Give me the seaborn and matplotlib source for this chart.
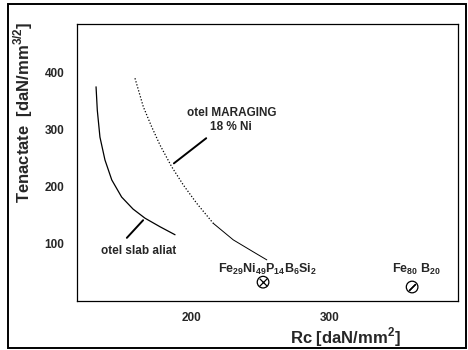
import numpy as np
import pandas as pd
import seaborn as sns
import matplotlib.pyplot as plt
from matplotlib.patches import Rectangle

# curve: otel slab aliat
slab_rc = [131.7, 132.6, 134.5, 138.1, 143.0, 150.1, 158.3, 166.9, 177.7, 188.5]
slab_k = [375, 334, 287, 247, 212, 182, 161, 145, 130, 116]

# otel MARAGING 18 % Ni (dotted upper part, solid lower part)
mar_rc_dot = [159.7, 165.7, 171.7, 177.7, 186.1, 194.5, 204.1, 216.0]
mar_k_dot = [390, 340, 305, 273, 235, 203, 171, 136]
mar_rc_sol = [216.0, 230.4, 244.8, 254.5]
mar_k_sol = [136, 107, 86, 72]

# amorphous alloys
alloy_names = ['Fe$_{\\mathbf{29}}$Ni$_{\\mathbf{49}}$P$_{\\mathbf{14}}$B$_{\\mathbf{6}}$Si$_{\\mathbf{2}}$',
               'Fe$_{\\mathbf{80}}$ B$_{\\mathbf{20}}$']
alloy_rc = [251.8, 359.0]
alloy_k = [33, 24.5]

x_ticks = [200, 300]
y_ticks = [100, 200, 300, 400]

sns.set_style('white')
plt.rcParams['font.family'] = ['Liberation Sans', 'DejaVu Sans']
plt.rcParams['mathtext.fontset'] = 'custom'
plt.rcParams['mathtext.rm'] = 'Liberation Sans:bold'
plt.rcParams['mathtext.bf'] = 'Liberation Sans:bold'

fig = plt.figure(figsize=(4.68, 3.5), dpi=100)
ax = fig.add_axes([77/468, 1 - 301/350, (458-77)/468, (301-24)/350])

slab = pd.DataFrame({'rc': slab_rc, 'k': slab_k})
sns.lineplot(data=slab, x='rc', y='k', ax=ax, color='black', lw=0.9, sort=False)
dot = pd.DataFrame({'rc': mar_rc_dot, 'k': mar_k_dot})
sns.lineplot(data=dot, x='rc', y='k', ax=ax, color='black', lw=0.9, ls=(0, (1, 1.5)), sort=False)
sol = pd.DataFrame({'rc': mar_rc_sol, 'k': mar_k_sol})
sns.lineplot(data=sol, x='rc', y='k', ax=ax, color='black', lw=0.7, sort=False)

# markers: circle with x, circle with slash
ax.scatter(alloy_rc, alloy_k, s=70, facecolors='none', edgecolors='black', linewidths=0.9, zorder=3)
ax.scatter(alloy_rc[:1], alloy_k[:1], s=30, marker='x', color='black', linewidths=0.9, zorder=3)
ax.scatter(alloy_rc[1:], alloy_k[1:], s=40, marker=(2, 2, -45), color='black', linewidths=0.9, zorder=3)

ax.text(219.4, 56, alloy_names[0], fontsize=9, fontweight='bold', va='center', ha='left')
ax.text(344.6, 56, alloy_names[1], fontsize=9, fontweight='bold', va='center', ha='left')

ax.text(229, 317, 'otel MARAGING\n18 % Ni', fontsize=8.5, fontweight='bold',
        ha='center', va='center', linespacing=1.2)
ax.annotate('', xy=(186.1, 238), xytext=(212.5, 288),
            arrowprops=dict(arrowstyle='-', color='black', lw=1.4))
ax.text(135.0, 87, 'otel slab aliat', fontsize=8.5, fontweight='bold', ha='left', va='center')
ax.annotate('', xy=(166.9, 145), xytext=(152.5, 107),
            arrowprops=dict(arrowstyle='-', color='black', lw=1.4))

ax.set_xlim(118, 392)
ax.set_ylim(0, 485)
ax.set_xticks(x_ticks)
ax.set_yticks(y_ticks)
ax.tick_params(length=0, labelsize=8.5, pad=9)
ax.tick_params(axis='x', pad=8)
for lab in ax.get_xticklabels() + ax.get_yticklabels():
    lab.set_fontweight('bold')

ax.set_xlabel('Rc [daN/mm$^{2}$]', fontsize=12, fontweight='bold')
ax.set_ylabel('Tenactate  [daN/mm$^{3/2}$]', fontsize=12, fontweight='bold')
ax.xaxis.set_label_coords((345-77)/381, -(325-301)/277)
ax.yaxis.set_label_coords(-(77-35)/381, (301-112)/277)

for s in ax.spines.values():
    s.set_color('black')
    s.set_linewidth(0.9)

fig.patches.append(Rectangle((8/468, 2/350), (466-8)/468, (346-2)/350,
                             transform=fig.transFigure, fill=False,
                             edgecolor='black', lw=1.4))

fig.savefig('out.png', dpi=100)
